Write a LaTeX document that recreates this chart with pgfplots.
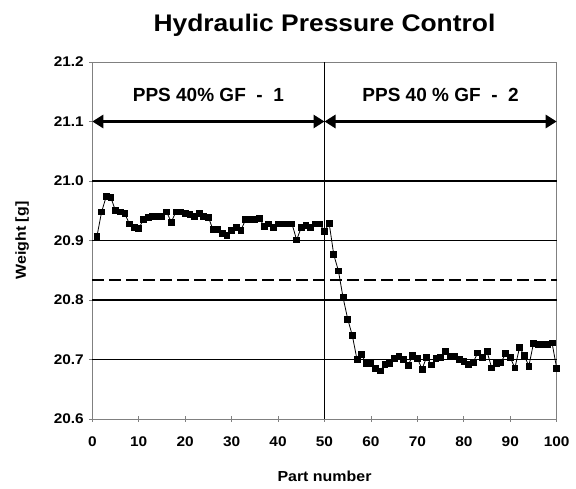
\documentclass[border=0pt]{standalone}
\usepackage{fontspec}
\setmainfont{Liberation Sans}
\newfontfamily\tickf{Liberation Sans}[FakeStretch=1.1]
\newfontfamily\titf{Liberation Sans}[FakeStretch=1.1]
\usepackage{pgfplots}
\pgfplotsset{compat=1.18}
\usetikzlibrary{arrows.meta}
\definecolor{axgray}{RGB}{128,128,128}
\begin{document}
\begin{tikzpicture}
\path[use as bounding box] (-92.3pt,-70pt) rectangle (483.7pt,419pt);
\begin{axis}[
  scale only axis, width=464.4pt, height=357pt,
  at={(0,0)}, anchor=south west,
  xmin=0, xmax=100, ymin=20.6, ymax=21.2,
  xtick={0,10,...,100}, ytick={20.6,20.7,...,21.2},
  axis line style={axgray, line width=0.8pt},
  tick style={axgray, line width=0.8pt, major tick length=6pt},
  tick align=center,
  xtick pos=bottom, ytick pos=left,
  /pgf/number format/assume math mode=true,
  yticklabel style={/pgf/number format/fixed, /pgf/number format/precision=1, /pgf/number format/fixed zerofill, font=\tickf\fontsize{14}{16}\selectfont\bfseries, black, xshift=-2pt},
  xticklabel style={font=\tickf\fontsize{14}{16}\selectfont\bfseries, black, yshift=-11pt},
  xlabel={Part number}, ylabel={Weight [g]},
  label style={font=\tickf\fontsize{14.5}{17}\selectfont\bfseries},
  xlabel style={at={(axis description cs:0.5,-0.16)}, anchor=center},
  ylabel style={at={(axis description cs:-0.151,0.5)}, anchor=center},
  title={Hydraulic Pressure Control},
  title style={font=\titf\fontsize{24}{28}\selectfont\bfseries, at={(axis description cs:0.5,1.087)}, anchor=center},
  clip=false,
]
% grid lines
\draw[black, line width=1.2pt] (axis cs:0,20.7) -- (axis cs:100,20.7);
\draw[black, line width=1.2pt] (axis cs:0,20.8) -- (axis cs:100,20.8);
\draw[black, line width=1.2pt] (axis cs:0,20.9) -- (axis cs:100,20.9);
\draw[black, line width=1.2pt] (axis cs:0,21.0) -- (axis cs:100,21.0);
\draw[black, line width=1.8pt, dash pattern=on 12pt off 5pt] (axis cs:0,20.833) -- (axis cs:100,20.833);
\draw[black, line width=1.8pt] (axis cs:50,20.6) -- (axis cs:50,21.2);
% arrows
\draw[black, line width=3.5pt, {Triangle[length=11pt,width=13pt]}-{Triangle[length=11pt,width=13pt]}] (axis cs:0,21.1) -- (axis cs:50,21.1);
\draw[black, line width=3.5pt, {Triangle[length=11pt,width=13pt]}-{Triangle[length=11pt,width=13pt]}] (axis cs:50,21.1) -- (axis cs:100,21.1);
\node[font=\fontsize{19}{22}\selectfont\bfseries] at (axis cs:25,21.145) {PPS 40\% GF\ \ -\ \ 1};
\node[font=\fontsize{19}{22}\selectfont\bfseries] at (axis cs:75,21.145) {PPS 40 \% GF\ \ -\ \ 2};
\addplot[black, line width=0.8pt, mark=square*, mark size=2.9pt, mark options={solid, fill=black}] coordinates {
(1,20.907) (2,20.948) (3,20.974) (4,20.972) (5,20.950) (6,20.948) (7,20.945) (8,20.928) (9,20.922) (10,20.920)
(11,20.935) (12,20.939) (13,20.940) (14,20.940) (15,20.941) (16,20.948) (17,20.931) (18,20.948) (19,20.948) (20,20.946)
(21,20.944) (22,20.940) (23,20.945) (24,20.941) (25,20.939) (26,20.918) (27,20.918) (28,20.912) (29,20.908) (30,20.917)
(31,20.922) (32,20.917) (33,20.935) (34,20.935) (35,20.935) (36,20.937) (37,20.924) (38,20.928) (39,20.922) (40,20.928)
(41,20.928) (42,20.928) (43,20.928) (44,20.901) (45,20.922) (46,20.925) (47,20.922) (48,20.928) (49,20.928) (50,20.915)
(51,20.929) (52,20.876) (53,20.849) (54,20.804) (55,20.768) (56,20.740) (57,20.700) (58,20.708) (59,20.693) (60,20.694)
(61,20.685) (62,20.681) (63,20.692) (64,20.694) (65,20.702) (66,20.706) (67,20.700) (68,20.690) (69,20.707) (70,20.702)
(71,20.684) (72,20.704) (73,20.691) (74,20.702) (75,20.703) (76,20.714) (77,20.705) (78,20.705) (79,20.700) (80,20.697)
(81,20.692) (82,20.695) (83,20.711) (84,20.704) (85,20.713) (86,20.686) (87,20.693) (88,20.695) (89,20.710) (90,20.703)
(91,20.686) (92,20.720) (93,20.707) (94,20.689) (95,20.727) (96,20.725) (97,20.725) (98,20.725) (99,20.728) (100,20.685)
};
\end{axis}
\end{tikzpicture}
\end{document}
